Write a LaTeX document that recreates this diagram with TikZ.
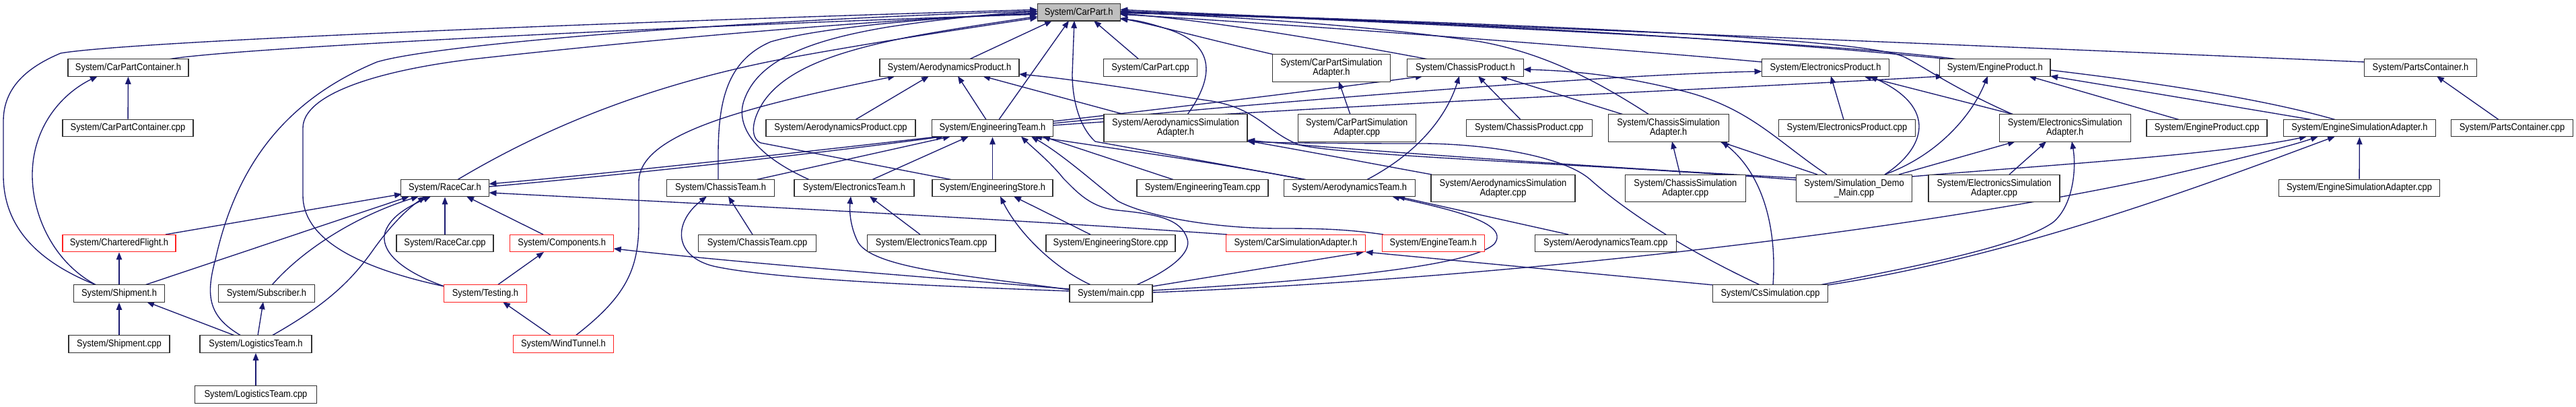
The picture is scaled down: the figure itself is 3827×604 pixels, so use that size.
\documentclass[tikz,border=0pt]{standalone}
\usepackage{fontspec}
\newfontfamily\dfont[FakeStretch=0.89]{Liberation Sans}
\usetikzlibrary{arrows.meta,calc,backgrounds}
\definecolor{edgec}{HTML}{191970}
\definecolor{boxc}{HTML}{303030}
\definecolor{redc}{HTML}{FF2020}
\begin{document}
\begin{tikzpicture}[x=1pt,y=-1pt,
 nd/.style={draw=boxc, line width=1.4pt, fill=white, inner sep=0pt, minimum height=25.5pt, font={\dfont\fontsize{14.5}{14.3}\selectfont}, align=center},
 rnd/.style={nd, draw=redc},
 two/.style={minimum height=40.5pt},
 ed/.style={draw=edgec, line width=1.35pt, -{Triangle[length=11pt,width=8.5pt]}}]
\useasboundingbox (0,0) rectangle (3827,604);
% row 0
\node[nd, fill=black!25, minimum width=123pt] (cp) at (1602.7,18.3) {System/CarPart.h};
% row 1
\node[nd, minimum width=179pt] (cpch) at (190.5,100.5) {System/CarPartContainer.h};
\node[nd, minimum width=207pt] (aeroh) at (1410.5,100.5) {System/AerodynamicsProduct.h};
\node[nd, minimum width=139pt] (cpcpp) at (1709,100.5) {System/CarPart.cpp};
\node[nd, two, minimum width=175pt] (cpsah) at (1978,101) {System/CarPartSimulation\\Adapter.h};
\node[nd, minimum width=172.5pt] (chph) at (2177,100.5) {System/ChassisProduct.h};
\node[nd, minimum width=189pt] (elph) at (2712,100.5) {System/ElectronicsProduct.h};
\node[nd, minimum width=164.5pt] (enph) at (2963.8,100.5) {System/EngineProduct.h};
\node[nd, minimum width=166.7pt] (pch) at (3596,100.5) {System/PartsContainer.h};
% row 2
\node[nd, minimum width=194pt] (cpccpp) at (190,190) {System/CarPartContainer.cpp};
\node[nd, minimum width=222pt] (aerocpp) at (1249,190) {System/AerodynamicsProduct.cpp};
\node[nd, minimum width=180pt] (eth) at (1474.5,190) {System/EngineeringTeam.h};
\node[nd, two, minimum width=213pt] (asah) at (1746.5,190) {System/AerodynamicsSimulation\\Adapter.h};
\node[nd, two, minimum width=175pt] (cpsacpp) at (2015.7,190) {System/CarPartSimulation\\Adapter.cpp};
\node[nd, minimum width=187pt] (chpcpp) at (2271.7,190) {System/ChassisProduct.cpp};
\node[nd, two, minimum width=179pt] (csah) at (2478.7,190) {System/ChassisSimulation\\Adapter.h};
\node[nd, minimum width=203pt] (elpcpp) at (2744,190) {System/ElectronicsProduct.cpp};
\node[nd, two, minimum width=195pt] (esah) at (3067.7,190) {System/ElectronicsSimulation\\Adapter.h};
\node[nd, minimum width=179pt] (enpcpp) at (3278.6,190) {System/EngineProduct.cpp};
\node[nd, minimum width=225.7pt] (ensah) at (3505.4,190) {System/EngineSimulationAdapter.h};
\node[nd, minimum width=181pt] (pccpp) at (3732,190) {System/PartsContainer.cpp};
% row 3
\node[nd, minimum width=131pt] (rch) at (661,279) {System/RaceCar.h};
\node[nd, minimum width=160pt] (chth) at (1070.5,279) {System/ChassisTeam.h};
\node[nd, minimum width=178pt] (elth) at (1269,279) {System/ElectronicsTeam.h};
\node[nd, minimum width=179pt] (esh) at (1474.5,279) {System/EngineeringStore.h};
\node[nd, minimum width=195pt] (etcpp) at (1786.5,279) {System/EngineeringTeam.cpp};
\node[nd, minimum width=195pt] (ath) at (2004.8,279) {System/AerodynamicsTeam.h};
\node[nd, two, minimum width=214pt] (asacpp) at (2233,279.5) {System/AerodynamicsSimulation\\Adapter.cpp};
\node[nd, two, minimum width=179pt] (csacpp) at (2503.8,279.5) {System/ChassisSimulation\\Adapter.cpp};
\node[nd, two, minimum width=172pt] (sdm) at (2754.5,279.5) {System/Simulation\_Demo\\\_Main.cpp};
\node[nd, two, minimum width=195pt] (esacpp) at (2962.5,279.5) {System/ElectronicsSimulation\\Adapter.cpp};
\node[nd, minimum width=239pt] (ensacpp) at (3505,279) {System/EngineSimulationAdapter.cpp};
% row 4
\node[rnd, minimum width=168pt] (cfh) at (177,361) {System/CharteredFlight.h};
\node[nd, minimum width=144pt] (rccpp) at (661,361) {System/RaceCar.cpp};
\node[rnd, minimum width=154pt] (comph) at (834.7,361) {System/Components.h};
\node[nd, minimum width=175pt] (chtcpp) at (1125,361) {System/ChassisTeam.cpp};
\node[nd, minimum width=190.6pt] (eltcpp) at (1383.7,361) {System/ElectronicsTeam.cpp};
\node[nd, minimum width=192pt] (escpp) at (1650,361) {System/EngineeringStore.cpp};
\node[rnd, minimum width=207pt] (csimh) at (1925,361) {System/CarSimulationAdapter.h};
\node[rnd, minimum width=152pt] (enth) at (2129.2,361) {System/EngineTeam.h};
\node[nd, minimum width=210pt] (atcpp) at (2385.3,361) {System/AerodynamicsTeam.cpp};
% row 5
\node[nd, minimum width=135pt] (shh) at (177,435.5) {System/Shipment.h};
\node[nd, minimum width=143pt] (subh) at (396,435.5) {System/Subscriber.h};
\node[rnd, minimum width=123pt] (testh) at (721,435.5) {System/Testing.h};
\node[nd, minimum width=123pt] (maincpp) at (1650.6,435.5) {System/main.cpp};
\node[nd, minimum width=171pt] (cscpp) at (2630,435.5) {System/CsSimulation.cpp};
% row 6
\node[nd, minimum width=150pt] (shcpp) at (177,510.5) {System/Shipment.cpp};
\node[nd, minimum width=166pt] (lth) at (380,510.5) {System/LogisticsTeam.h};
\node[rnd, minimum width=149pt] (wth) at (837,510.5) {System/WindTunnel.h};
% row 7
\node[nd, minimum width=181pt] (ltcpp) at (380,585.5) {System/LogisticsTeam.cpp};

\begin{scope}[on background layer]
\fill[white] (0,0) rectangle (3827,604);
% into CarPart.h, left side
\draw[ed] ($(cpch)+(59.5,-12.5)$) .. controls (350,70) and (1100,35) .. ($(cp)+(-61.5,3)$);
\draw[ed] ($(shh)+(-34,-12.5)$) .. controls (60,390) and (5,340) .. (5,260) -- (5,180) .. controls (5,130) and (40,100) .. (90,79) .. controls (200,60) and (1000,30) .. ($(cp)+(-61.5,-4)$);
\draw[ed] ($(lth)+(-22,-12.5)$) .. controls (310,470) and (305,440) .. (320,385) .. controls (350,250) and (420,150) .. (560,92) .. controls (650,65) and (1100,30) .. ($(cp)+(-61.5,-2)$);
\draw[ed] ($(testh)+(-61,-10.5)$) .. controls (520,395) and (450,350) .. (450,290) -- (450,190) .. controls (450,140) and (560,105) .. (700,88) .. controls (1000,55) and (1300,30) .. ($(cp)+(-61.5,1)$);
\draw[ed] ($(rch)+(19,-12.5)$) .. controls (800,195) and (950,130) .. (1150,90) .. controls (1300,62) and (1450,40) .. ($(cp)+(-61.5,8)$);
\draw[ed] ($(chth)+(-3.5,-12.5)$) -- (1067,230) .. controls (1067,150) and (1080,90) .. (1145,62) .. controls (1220,40) and (1400,25) .. ($(cp)+(-61.5,2)$);
\draw[ed] ($(elth)+(-67,-12.5)$) .. controls (1110,225) and (1095,180) .. (1105,150) .. controls (1125,90) and (1200,60) .. (1320,40) .. controls (1400,28) and (1480,20) .. ($(cp)+(-61.5,-1)$);
\draw[ed] ($(esh)+(-61.5,-12.5)$) -- (1130,212) .. controls (1115,205) and (1115,180) .. (1135,150) .. controls (1170,100) and (1250,75) .. (1350,55) .. controls (1420,42) and (1490,32) .. ($(cp)+(-61.5,6)$);
% into CarPart.h, bottom
\draw[ed] ($(aeroh)+(29.5,-12.5)$) -- ($(cp)+(-39.7,12.5)$);
\draw[ed] ($(eth)+(9.5,-12.5)$) -- ($(cp)+(-14.7,12.5)$);
\draw[ed] ($(ath)+(-64.8,-12.5)$) -- (1627,210) .. controls (1600,185) and (1593,140) .. (1593,110) -- ($(cp)+(-6.7,12.5)$);
\draw[ed] ($(cpcpp)+(-17,-12.5)$) -- ($(cp)+(22.3,12.5)$);
% into CarPart.h, right side
\draw[ed] ($(cpsah)+(-85,-20)$) .. controls (1800,60) and (1720,38) .. ($(cp)+(61.5,8.7)$);
\draw[ed] ($(asah)+(17.5,-20)$) .. controls (1800,120) and (1810,70) .. (1740,45) .. controls (1710,35) and (1690,30) .. ($(cp)+(61.5,10)$);
\draw[ed] ($(chph)+(-55,-12.5)$) .. controls (2000,65) and (1800,30) .. ($(cp)+(61.5,2)$);
\draw[ed] ($(csah)+(-28.7,-20)$) .. controls (2380,125) and (2300,80) .. (2200,62) .. controls (2050,40) and (1850,25) .. ($(cp)+(61.5,0)$);
\draw[ed] ($(elph)+(-94.5,-8.5)$) .. controls (2400,72) and (1900,35) .. ($(cp)+(61.5,3)$);
\draw[ed] ($(esah)+(-76.7,-20)$) .. controls (2900,130) and (2860,100) .. (2830,85) .. controls (2780,60) and (2400,40) .. ($(cp)+(61.5,-1)$);
\draw[ed] ($(enph)+(-54.8,-12.5)$) .. controls (2700,60) and (2000,30) .. ($(cp)+(61.5,-2)$);
\draw[ed] ($(pch)+(-83.35,-8.5)$) .. controls (3000,70) and (2000,30) .. ($(cp)+(61.5,-4)$);
\draw[ed] ($(ensah)+(-36.4,-12.5)$) .. controls (3200,100) and (2500,40) .. ($(cp)+(61.5,1)$);
% into AerodynamicsProduct.h
\draw[ed] ($(wth)+(18,-12.5)$) .. controls (930,440) and (949,400) .. (949,330) -- (949,270) .. controls (949,200) and (1100,160) .. ($(aeroh)+(-80.5,12.5)$);
\draw[ed] ($(aerocpp)+(22,-12.5)$) -- ($(aeroh)+(-30.5,12.5)$);
\draw[ed] ($(eth)+(-9.5,-12.5)$) -- ($(aeroh)+(12.5,12.5)$);
\draw[ed] ($(asah)+(-75.5,-20)$) -- ($(aeroh)+(49.5,12.5)$);
\draw[ed] ($(sdm)+(-86,-12.5)$) .. controls (2400,245) and (2000,232) .. (1930,215) .. controls (1880,195) and (1870,162) .. (1800,150) .. controls (1700,135) and (1600,118) .. ($(aeroh)+(103.5,9.5)$);
% CarPartSimulationAdapter.h
\draw[ed] ($(cpsacpp)+(-9.7,-20)$) -- ($(cpsah)+(11,20)$);
% ChassisProduct.h
\draw[ed] ($(eth)+(90,-10)$) .. controls (1700,165) and (1950,135) .. ($(chph)+(-63,12.5)$);
\draw[ed] ($(ath)+(26.2,-12.5)$) .. controls (2110,225) and (2150,170) .. ($(chph)+(-9,12.5)$);
\draw[ed] ($(chpcpp)+(-12.7,-12.5)$) -- ($(chph)+(19,12.5)$);
\draw[ed] ($(csah)+(-66.7,-20)$) -- ($(chph)+(51,12.5)$);
\draw[ed] ($(sdm)+(-40.5,-20.5)$) .. controls (2640,210) and (2600,160) .. (2500,135) .. controls (2400,110) and (2330,105) .. ($(chph)+(86.25,2.5)$);
% ElectronicsProduct.h
\draw[ed] ($(eth)+(90,-7)$) .. controls (1900,150) and (2400,110) .. ($(elph)+(-94.5,5.5)$);
\draw[ed] ($(elpcpp)+(-5,-12.5)$) -- ($(elph)+(8,12.5)$);
\draw[ed] ($(esah)+(-75.7,-20)$) -- ($(elph)+(57,12.5)$);
\draw[ed] ($(sdm)+(45.5,-20.5)$) .. controls (2860,220) and (2880,160) .. ($(elph)+(66,12.5)$);
% EngineProduct.h
\draw[ed] ($(eth)+(90,-4)$) .. controls (2000,155) and (2600,130) .. ($(enph)+(-76.8,12.5)$);
\draw[ed] ($(sdm)+(45.5,-20.5)$) .. controls (2880,230) and (2930,170) .. ($(enph)+(-10.8,12.5)$);
\draw[ed] ($(enpcpp)+(-41.6,-12.5)$) -- ($(enph)+(50.2,12.5)$);
\draw[ed] ($(ensah)+(-71.4,-12.5)$) .. controls (3300,155) and (3150,130) .. ($(enph)+(82.25,12.5)$);
% PartsContainer.h
\draw[ed] ($(pccpp)+(-20,-12.5)$) -- ($(pch)+(24,12.5)$);
% CarPartContainer.h
\draw[ed] (cpccpp) -- (cpch);
\draw[ed] ($(shh)+(-34,-12.5)$) .. controls (80,390) and (48,320) .. (48,260) .. controls (48,190) and (90,140) .. ($(cpch)+(-45.5,12.5)$);
% CharteredFlight.h, Shipment.h, Subscriber.h, LogisticsTeam.h
\draw[ed] (shh) -- (cfh);
\draw[ed] (shcpp) -- (shh);
\draw[ed] ($(lth)+(-31,-12.5)$) -- ($(shh)+(41,12.5)$);
\draw[ed] ($(lth)+(3,-12.5)$) -- ($(subh)+(-5,12.5)$);
\draw[ed] (ltcpp) -- (lth);
% RaceCar.h
\draw[ed] ($(cfh)+(69,-13)$) -- ($(rch)+(-64,9)$);
\draw[ed] ($(shh)+(38,-12.5)$) -- ($(rch)+(-53,12.5)$);
\draw[ed] ($(subh)+(8,-12.5)$) .. controls (450,370) and (530,320) .. ($(rch)+(-39,12.5)$);
\draw[ed] ($(lth)+(24,-12.5)$) .. controls (480,455) and (520,420) .. (555,370) .. controls (580,335) and (605,310) .. ($(rch)+(-29,12.5)$);
\draw[ed] ($(testh)+(-61,-10.5)$) .. controls (590,400) and (565,370) .. (572,345) .. controls (580,320) and (610,305) .. ($(rch)+(-21,12.5)$);
\draw[ed] (rccpp) -- (rch);
\draw[ed] ($(comph)+(-27.7,-13)$) -- ($(rch)+(32,12.5)$);
\draw[ed] ($(csimh)+(-102,-13)$) .. controls (1500,325) and (1000,300) .. ($(rch)+(65.5,7)$);
\draw[ed] ($(eth)+(-78.5,12.5)$) .. controls (1200,225) and (900,258) .. ($(rch)+(65.5,-6)$);
% EngineeringTeam.h
\draw[ed] ($(rch)+(65.5,-2)$) .. controls (900,262) and (1200,230) .. ($(eth)+(-72.5,12.5)$);
\draw[ed] ($(chth)+(53.5,-12.5)$) -- ($(eth)+(-62.5,12.5)$);
\draw[ed] ($(elth)+(27,-12.5)$) -- ($(eth)+(-35.5,12.5)$);
\draw[ed] (esh) -- (eth);
\draw[ed] ($(etcpp)+(-43.5,-12.5)$) -- ($(eth)+(74.5,12.5)$);
\draw[ed] ($(ath)+(-66.8,-12.5)$) .. controls (1800,240) and (1650,220) .. ($(eth)+(62.5,12.5)$);
\draw[ed] ($(enth)+(-74.2,-13)$) .. controls (2000,340) and (1960,339) .. (1900,339) .. controls (1800,339) and (1700,320) .. (1660,298) .. controls (1630,275) and (1580,230) .. ($(eth)+(57.5,12.5)$);
\draw[ed] ($(maincpp)+(37.4,-12.5)$) .. controls (1740,400) and (1770,375) .. (1764,355) .. controls (1755,325) and (1720,318) .. (1660,312) .. controls (1620,308) and (1600,285) .. (1580,265) .. controls (1560,240) and (1535,220) .. ($(eth)+(42.5,12.5)$);
% ChassisTeam.h
\draw[ed] ($(chtcpp)+(-7,-13)$) -- ($(chth)+(11.5,12.5)$);
\draw[ed] ($(maincpp)+(-61.6,-3.5)$) .. controls (1400,425) and (1150,415) .. (1060,395) .. controls (1000,380) and (1000,330) .. ($(chth)+(-20.5,12.5)$);
% ElectronicsTeam.h
\draw[ed] ($(eltcpp)+(-16.7,-13)$) -- ($(elth)+(23,12.5)$);
\draw[ed] ($(maincpp)+(-61.6,-5.5)$) .. controls (1450,410) and (1300,400) .. (1275,360) .. controls (1262,335) and (1262,310) .. ($(elth)+(-5,12.5)$);
% EngineeringStore.h
\draw[ed] ($(escpp)+(-30,-13)$) -- ($(esh)+(31.5,12.5)$);
\draw[ed] ($(maincpp)+(-29.6,-12.5)$) .. controls (1560,395) and (1510,340) .. ($(esh)+(11.5,12.5)$);
% AerodynamicsTeam.h
\draw[ed] ($(atcpp)+(-55.3,-13)$) -- ($(ath)+(71.2,12.5)$);
\draw[ed] ($(maincpp)+(61.4,-4.5)$) .. controls (1900,420) and (2180,400) .. (2220,362) .. controls (2245,330) and (2150,310) .. ($(ath)+(63.2,12.5)$);
% Components.h, Testing.h
\draw[ed] ($(testh)+(18,-12.5)$) -- ($(comph)+(-26.7,13)$);
\draw[ed] ($(maincpp)+(-61.6,-6.5)$) .. controls (1300,405) and (1100,390) .. ($(comph)+(77,8)$);
\draw[ed] ($(wth)+(-18,-12.5)$) -- ($(testh)+(26,12.5)$);
% CarSimulationAdapter.h
\draw[ed] ($(maincpp)+(61.4,-10.5)$) -- ($(csimh)+(101,13)$);
\draw[ed] ($(cscpp)+(-84,-12.5)$) -- ($(csimh)+(103.5,13)$);
% AerodynamicsSimulationAdapter.h
\draw[ed] ($(asacpp)+(-106,-20.5)$) .. controls (2050,245) and (1950,226) .. ($(asah)+(106.5,19)$);
\draw[ed] ($(sdm)+(-86,-15.5)$) .. controls (2400,250) and (2000,222) .. ($(asah)+(106.5,18)$);
\draw[ed] ($(cscpp)+(-15,-12.5)$) .. controls (2480,360) and (2400,300) .. (2362,266) .. controls (2320,230) and (2200,212) .. (2100,213) .. controls (2000,213) and (1900,212) .. ($(asah)+(106.5,20)$);
% ChassisSimulationAdapter.h
\draw[ed] ($(csacpp)+(-7.8,-20.5)$) -- ($(csah)+(5.3,20)$);
\draw[ed] ($(sdm)+(-54.5,-20.5)$) -- ($(csah)+(76.3,20)$);
\draw[ed] ($(cscpp)+(4,-12.5)$) .. controls (2640,340) and (2620,260) .. ($(csah)+(79.3,20)$);
% ElectronicsSimulationAdapter.h
\draw[ed] ($(esacpp)+(22.5,-20.5)$) -- ($(esah)+(-27.7,20)$);
\draw[ed] ($(sdm)+(66.5,-20.5)$) -- ($(esah)+(-73.7,20)$);
\draw[ed] ($(cscpp)+(73,-12.5)$) .. controls (2850,395) and (3000,365) .. (3050,330) .. controls (3080,305) and (3085,250) .. ($(esah)+(10.3,20)$);
% EngineSimulationAdapter.h
\draw[ed] (ensacpp) -- (ensah);
\draw[ed] ($(sdm)+(86,-17.5)$) .. controls (3000,248) and (3300,230) .. ($(ensah)+(-78.4,12.5)$);
\draw[ed] ($(maincpp)+(61.4,-1.5)$) .. controls (2200,415) and (2800,350) .. (3200,265) .. controls (3300,242) and (3400,218) .. ($(ensah)+(-61.4,12.5)$);
\draw[ed] ($(cscpp)+(85.5,-12.5)$) .. controls (3000,380) and (3300,265) .. ($(ensah)+(-36.4,12.5)$);
\end{scope}
\end{tikzpicture}
\end{document}
